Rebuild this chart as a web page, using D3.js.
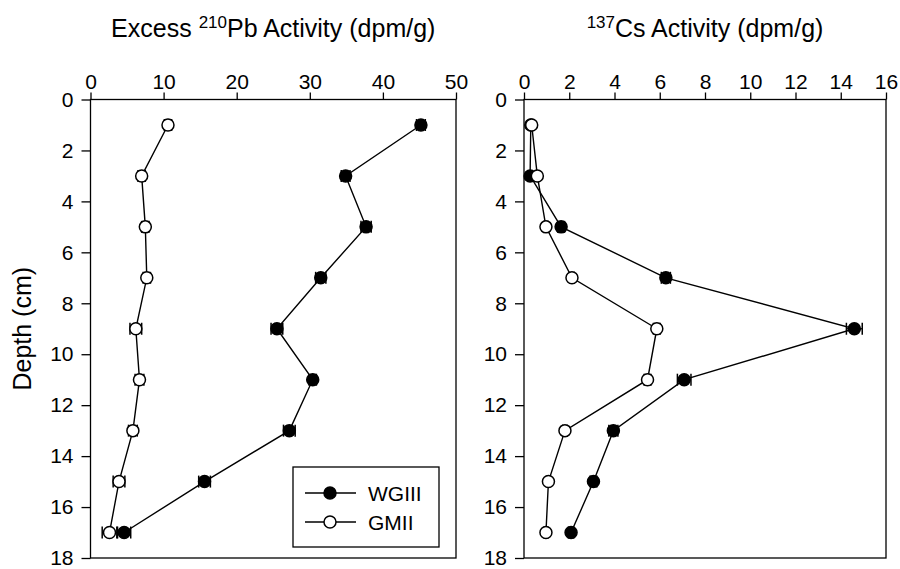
<!DOCTYPE html>
<html>
<head>
<meta charset="utf-8">
<script src="https://cdn.jsdelivr.net/npm/d3@7"></script>
<style>
  body { margin: 0; background: #fff; }
  svg { display: block; font-family: "Liberation Sans", Arial, Helvetica, sans-serif; }
  .axis path, .axis line { stroke: #000; stroke-width: 1.3; }
  .axis text { font-size: 21px; fill: #000; }
</style>
</head>
<body>
<svg id="chart" width="900" height="569"></svg>
<script>
// depth midpoints (cm)
const depths = [1, 3, 5, 7, 9, 11, 13, 15, 17];
const seriesNames = ["WGIII", "GMII"];

// excess 210Pb (dpm/g)
const pbWG = [45.2, 34.9, 37.7, 31.5, 25.5, 30.4, 27.2, 15.6, 4.6];
const pbWGErr = [0.6, 0.6, 0.7, 0.7, 0.8, 0.5, 0.8, 0.8, 0.9];
const pbGM = [10.6, 7.0, 7.5, 7.7, 6.2, 6.7, 5.8, 3.9, 2.6];
const pbGMErr = [0.5, 0.5, 0.5, 0.5, 0.8, 0.6, 0.6, 0.8, 1.0];

// 137Cs (dpm/g)
const csWG = [0.3, 0.27, 1.64, 6.27, 14.6, 7.08, 3.95, 3.07, 2.08];
const csWGErr = [0.05, 0.1, 0.15, 0.2, 0.35, 0.3, 0.2, 0.15, 0.12];
const csGM = [0.34, 0.59, 0.97, 2.12, 5.87, 5.46, 1.81, 1.08, 0.97];
const csGMErr = [0.05, 0.08, 0.08, 0.1, 0.15, 0.15, 0.1, 0.08, 0.08];

const pbTicks = [0, 10, 20, 30, 40, 50];
const csTicks = [0, 2, 4, 6, 8, 10, 12, 14, 16];
const depthTicks = [0, 2, 4, 6, 8, 10, 12, 14, 16, 18];

const svg = d3.select("#chart");
const plotTop = 99.5, plotBottom = 558;

const y = d3.scaleLinear().domain([0, 18]).range([plotTop, plotBottom]);

function panel(left, right, xmax, xticks, wg, wgErr, gm, gmErr, titleSup, titleMain) {
  const x = d3.scaleLinear().domain([0, xmax]).range([left, right]);
  const g = svg.append("g");

  // frame
  g.append("rect")
    .attr("x", left).attr("y", plotTop)
    .attr("width", right - left).attr("height", plotBottom - plotTop)
    .attr("fill", "none").attr("stroke", "#000").attr("stroke-width", 1.3);

  g.append("g").attr("class", "axis")
    .attr("transform", `translate(0,${plotTop})`)
    .call(d3.axisTop(x).tickValues(xticks).tickSize(7).tickPadding(4).tickSizeOuter(0))
    .call(a => a.select(".domain").remove());

  g.append("g").attr("class", "axis")
    .attr("transform", `translate(${left},0)`)
    .call(d3.axisLeft(y).tickValues(depthTicks).tickSize(9).tickPadding(8).tickSizeOuter(0))
    .call(a => a.select(".domain").remove());

  // title with superscript
  const t = g.append("text")
    .attr("x", (left + right) / 2).attr("y", 37)
    .attr("text-anchor", "middle")
    .style("font-size", "25px");
  if (titleMain.pre) t.append("tspan").text(titleMain.pre);
  t.append("tspan").attr("dy", -9).style("font-size", "17px").text(titleSup);
  t.append("tspan").attr("dy", 9).text(titleMain.post);

  const line = d3.line().x(d => x(d[0])).y(d => y(d[1]));

  function series(vals, errs, filled) {
    const pts = vals.map((v, i) => [v, depths[i], errs[i]]);
    g.append("path").datum(pts)
      .attr("d", line).attr("fill", "none")
      .attr("stroke", "#000").attr("stroke-width", 1.4);
    const e = g.append("g").selectAll("g").data(pts).join("g");
    e.append("line")
      .attr("x1", d => x(d[0] - d[2])).attr("x2", d => x(d[0] + d[2]))
      .attr("y1", d => y(d[1])).attr("y2", d => y(d[1]))
      .attr("stroke", "#000").attr("stroke-width", 1.3);
    [-1, 1].forEach(s => {
      e.append("line")
        .attr("x1", d => x(d[0] + s * d[2])).attr("x2", d => x(d[0] + s * d[2]))
        .attr("y1", d => y(d[1]) - 6).attr("y2", d => y(d[1]) + 6)
        .attr("stroke", "#000").attr("stroke-width", 1.5);
    });
    g.append("g").selectAll("circle").data(pts).join("circle")
      .attr("cx", d => x(d[0])).attr("cy", d => y(d[1]))
      .attr("r", 6)
      .attr("fill", filled ? "#000" : "#fff")
      .attr("stroke", "#000").attr("stroke-width", 1.5);
  }
  series(wg, wgErr, true);
  series(gm, gmErr, false);
  return g;
}

panel(90.5, 456, 50, pbTicks, pbWG, pbWGErr, pbGM, pbGMErr, "210",
  { pre: "Excess ", post: "Pb Activity (dpm/g)" });
panel(524, 886, 16, csTicks, csWG, csWGErr, csGM, csGMErr, "137",
  { pre: "", post: "Cs Activity (dpm/g)" });

// y label
svg.append("text")
  .attr("transform", `translate(31,${(plotTop + plotBottom) / 2}) rotate(-90)`)
  .attr("text-anchor", "middle")
  .style("font-size", "25px")
  .text("Depth (cm)");

// legend
const lg = svg.append("g");
lg.append("rect")
  .attr("x", 293).attr("y", 467).attr("width", 146).attr("height", 80)
  .attr("fill", "#fff").attr("stroke", "#000").attr("stroke-width", 1.3);
seriesNames.forEach((name, i) => {
  const ly = 493 + i * 29;
  lg.append("line").attr("x1", 305).attr("x2", 356).attr("y1", ly).attr("y2", ly)
    .attr("stroke", "#000").attr("stroke-width", 1.4);
  lg.append("circle").attr("cx", 330).attr("cy", ly).attr("r", 6)
    .attr("fill", i === 0 ? "#000" : "#fff").attr("stroke", "#000").attr("stroke-width", 1.5);
  lg.append("text").attr("x", 368).attr("y", ly + 8)
    .style("font-size", "21px").text(name);
});
</script>
</body>
</html>
